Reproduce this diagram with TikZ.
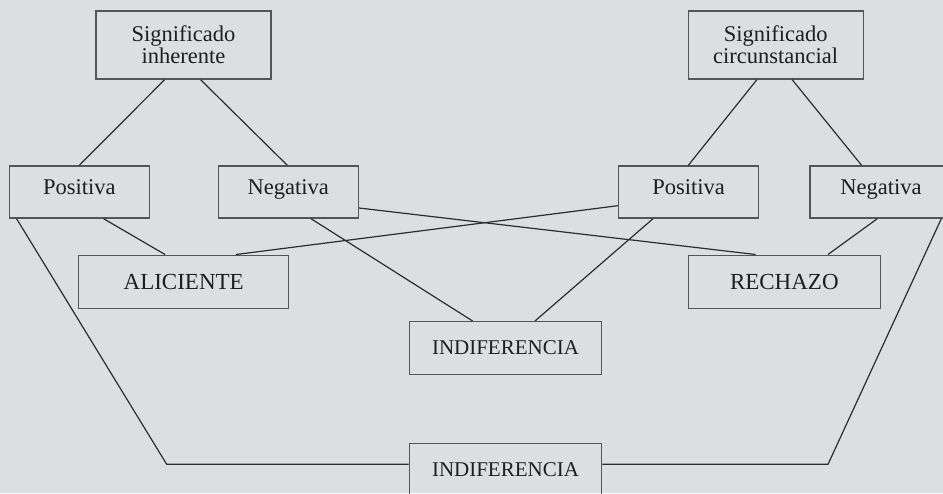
\documentclass[tikz,border=0pt]{standalone}
\usepackage{fontspec}
\setmainfont{Liberation Serif}
\definecolor{bgc}{RGB}{221,222,224}
\definecolor{boxc}{RGB}{85,85,85}
\definecolor{linec}{RGB}{45,45,45}
\definecolor{txtc}{RGB}{30,30,30}
\tikzset{
  box/.style={draw=boxc, line width=1.4pt, rectangle, inner sep=0pt, align=center,
    text=txtc, font=\fontsize{22.5}{21.7}\selectfont},
  smallbox/.style={box, minimum width=140pt, minimum height=52pt, text height=16pt, text depth=12pt},
  bigcap/.style={box, font=\fontsize{23}{23}\selectfont},
  capbox/.style={box, font=\fontsize{21}{21}\selectfont},
  conn/.style={draw=linec, line width=1.2pt}
}
\begin{document}
\begin{tikzpicture}[x=1pt,y=-1pt]
\useasboundingbox (0,0) rectangle (943,493);
\clip (0,0) rectangle (943,493);
\fill[bgc] (0,0) rectangle (943,493);

\node[box, minimum width=175pt, minimum height=68pt] (SI) at (183.5,45) {Significado\\inherente};
\node[box, minimum width=175pt, minimum height=68pt] (SC) at (775.7,45) {Significado\\circunstancial};
\node[smallbox] (P1) at (79.3,192) {Positiva};
\node[smallbox] (N1) at (288.3,192) {Negativa};
\node[smallbox] (P2) at (688.5,192) {Positiva};
\node[smallbox, minimum width=142pt] (N2) at (881,192) {Negativa};
\node[bigcap, minimum width=210pt, minimum height=53pt] (AL) at (183.7,281.7) {ALICIENTE};
\node[bigcap, minimum width=192pt, minimum height=53pt] (RE) at (784.3,281.7) {RECHAZO};
\node[capbox, minimum width=192.4pt, minimum height=52.6pt] (I1) at (505.5,348) {INDIFERENCIA};
\node[capbox, minimum width=192.4pt, minimum height=52pt] (I2) at (505.5,469.3) {INDIFERENCIA};

\coordinate (cl) at (166.7,464.3);
\coordinate (cr) at (828,464.3);

\draw[conn] ([xshift=69.3pt]SI.south west) -- ([xshift=70.7pt]P1.north west);
\draw[conn] ([xshift=105.3pt]SI.south west) -- ([xshift=69.7pt]N1.north west);
\draw[conn] ([xshift=69.4pt]SC.south west) -- ([xshift=70.5pt]P2.north west);
\draw[conn] ([xshift=104.7pt]SC.south west) -- ([xshift=52.3pt]N2.north west);

\draw[conn] ([xshift=95pt]P1.south west) -- ([xshift=87pt]AL.north west);
\draw[conn] ([xshift=8pt]P1.south west) -- (cl) -- ([yshift=5pt]I2.west);
\draw[conn] ([yshift=10.7pt]N1.south east) -- ([xshift=68pt]RE.north west);
\draw[conn] ([xshift=93.4pt]N1.south west) -- ([xshift=64pt]I1.north west);
\draw[conn] ([yshift=13pt]P2.south west) -- ([xshift=158pt]AL.north west);
\draw[conn] ([xshift=35.2pt]P2.south west) -- ([xshift=126.4pt]I1.north west);
\draw[conn] ([xshift=68pt]N2.south west) -- ([xshift=140.4pt]RE.north west);
\draw[conn] ([xshift=132pt]N2.south west) -- (cr) -- ([yshift=5pt]I2.east);
\end{tikzpicture}
\end{document}
